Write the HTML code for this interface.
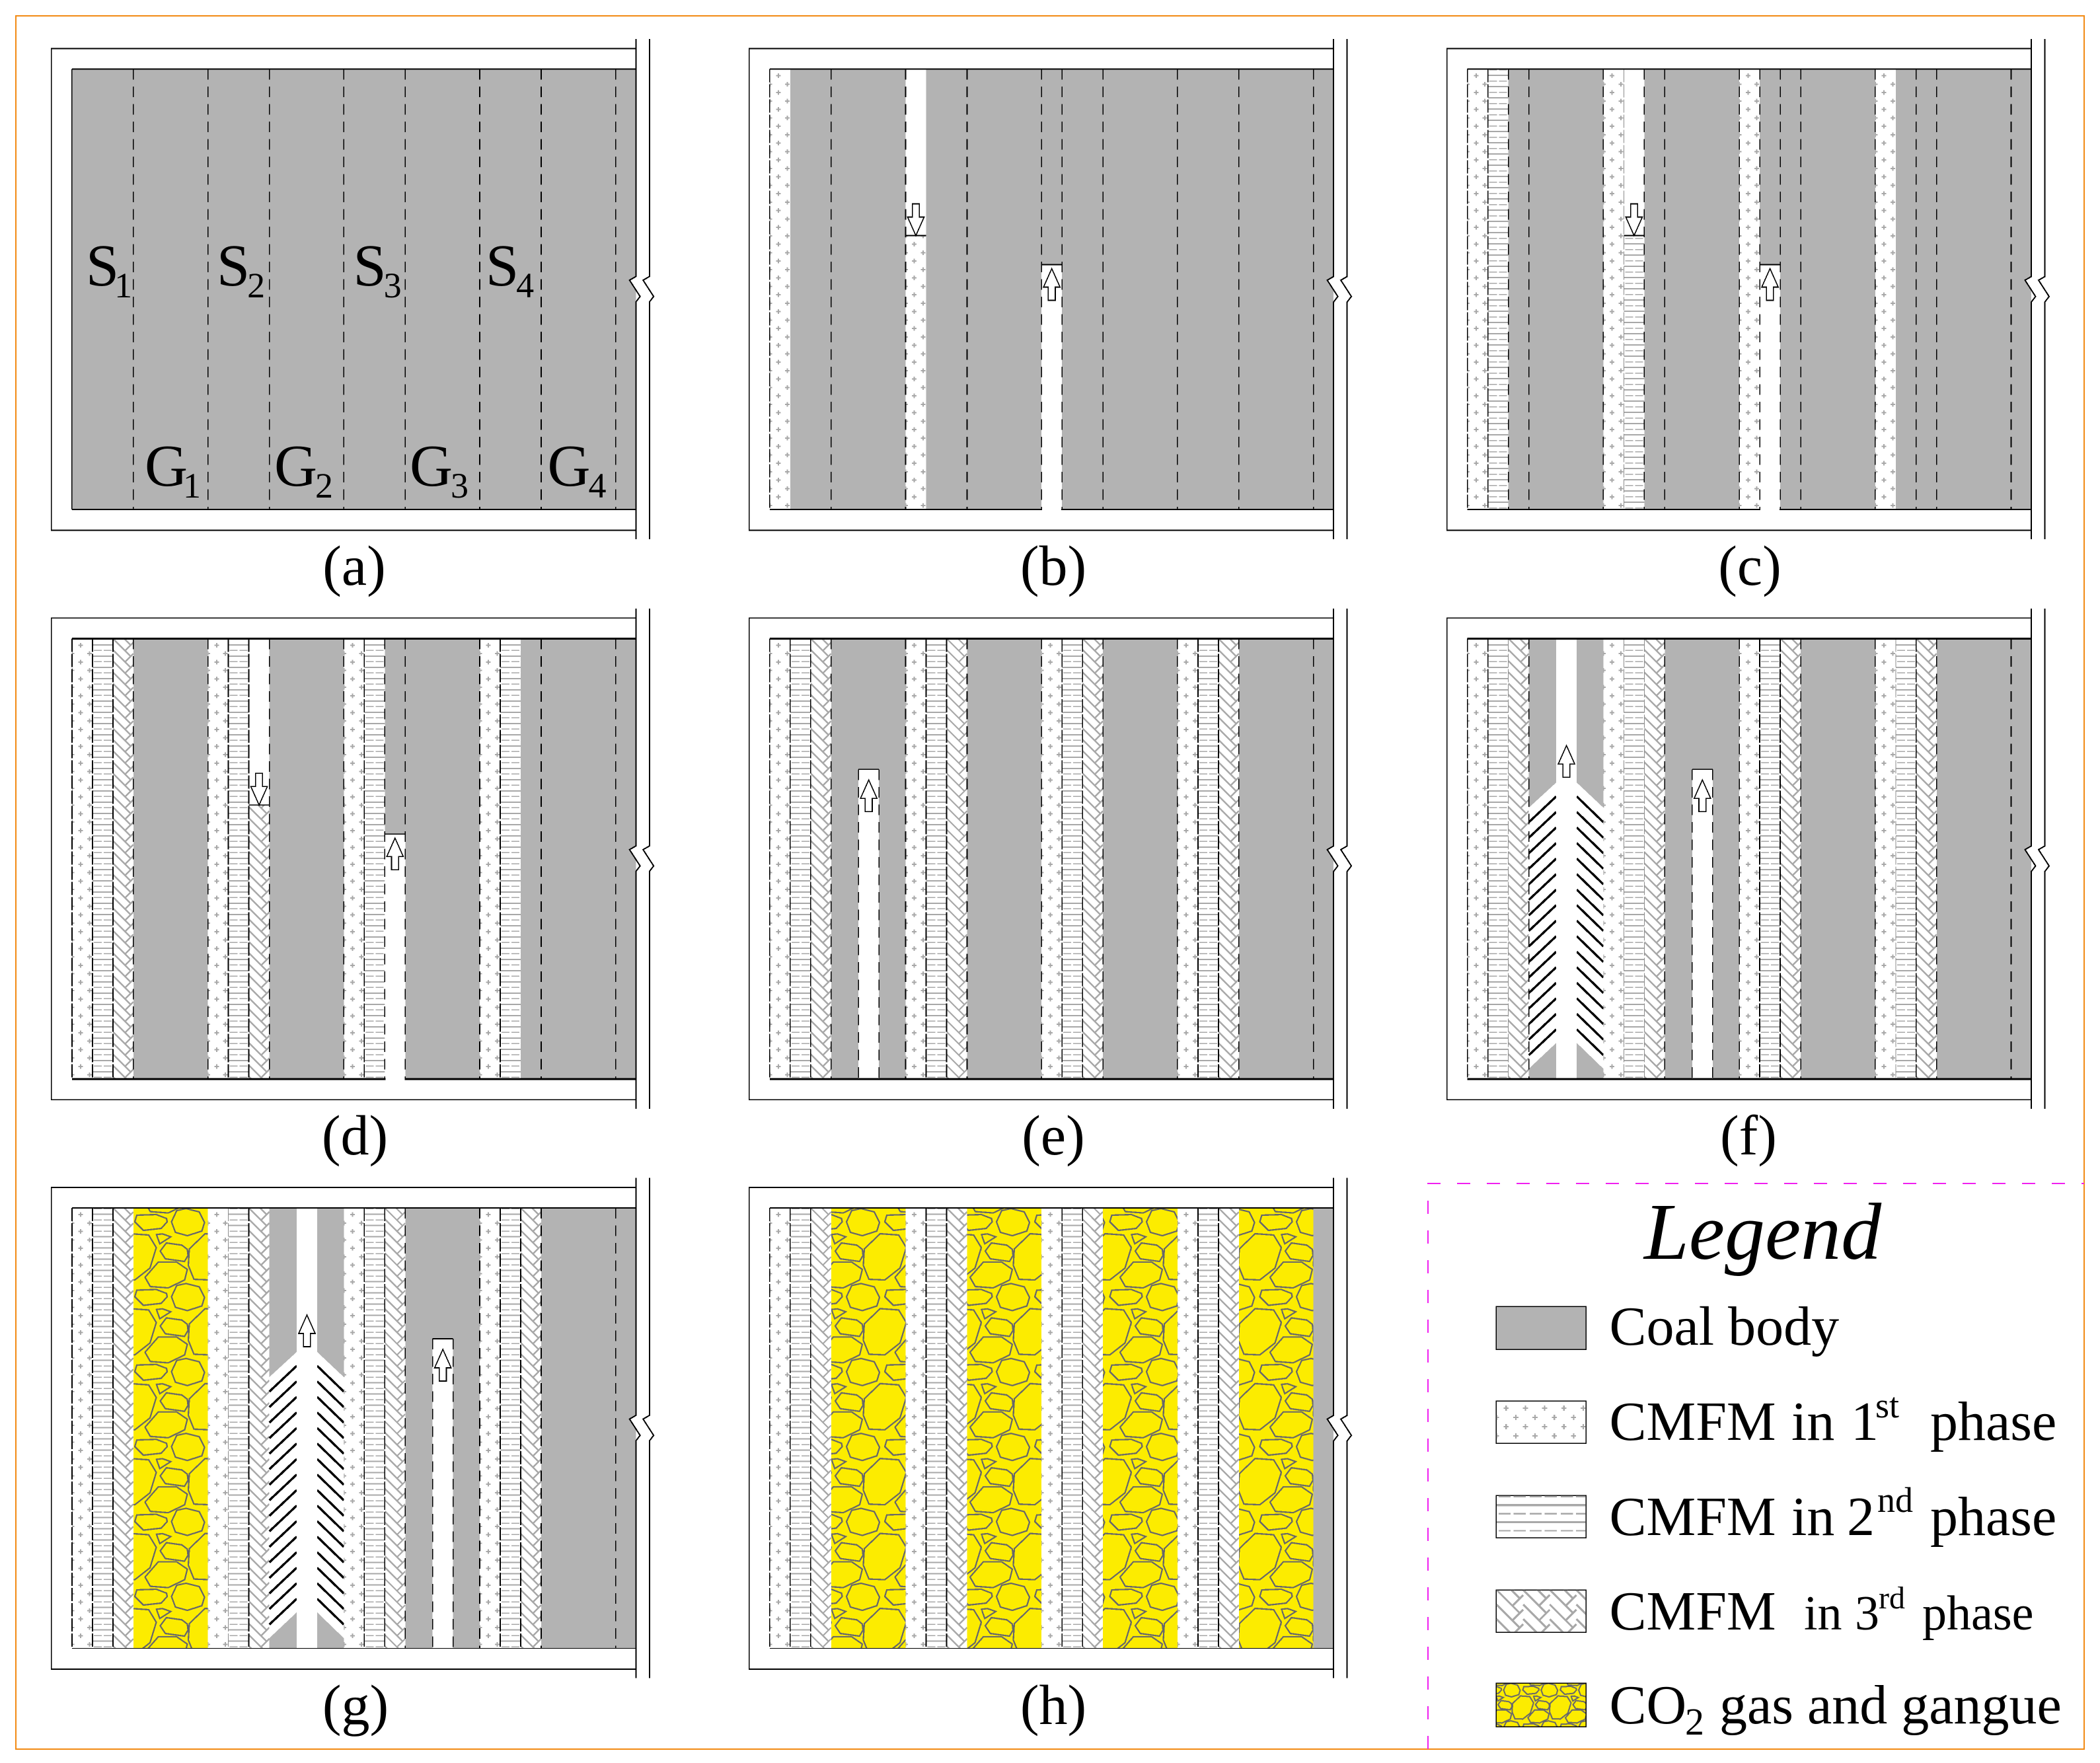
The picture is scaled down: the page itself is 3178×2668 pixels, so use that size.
<!DOCTYPE html>
<html lang="en">
<head>
<meta charset="utf-8">
<title>Coal mining stages diagram</title>
<style>
html,body{margin:0;padding:0;background:#fff;}
svg{display:block;}
text{font-family:"Liberation Serif",serif;fill:#000;}
</style>
</head>
<body>
<svg id="figure" xmlns="http://www.w3.org/2000/svg" width="3178" height="2668" viewBox="0 0 3178 2668" shape-rendering="crispEdges">
<defs id="defs"></defs>
<rect x="0" y="0" width="3178" height="2668" fill="#fff"/>
<g id="panels"></g>

<g font-size="90">
<text x="130" y="432">S<tspan dy="18" dx="-7" font-size="54">1</tspan></text>
<text x="328" y="432">S<tspan dy="18" dx="-4" font-size="54">2</tspan></text>
<text x="534.5" y="432">S<tspan dy="18" dx="-4" font-size="54">3</tspan></text>
<text x="735" y="432">S<tspan dy="18" dx="-4" font-size="54">4</tspan></text>
<text x="219" y="735">G<tspan dy="18" dx="-7" font-size="54">1</tspan></text>
<text x="415" y="735">G<tspan dy="18" dx="-3" font-size="54">2</tspan></text>
<text x="620" y="735">G<tspan dy="18" dx="-3" font-size="54">3</tspan></text>
<text x="828.5" y="735">G<tspan dy="18" dx="-3" font-size="54">4</tspan></text>
</g>

<g font-size="86" text-anchor="middle">
<text x="536" y="885">(a)</text>
<text x="1594" y="885">(b)</text>
<text x="2648" y="885">(c)</text>
<text x="537" y="1747">(d)</text>
<text x="1594" y="1747">(e)</text>
<text x="2646" y="1747">(f)</text>
<text x="538" y="2609">(g)</text>
<text x="1594" y="2609">(h)</text>
</g>

<rect x="24" y="24" width="3130" height="2623" fill="none" stroke="#f28a14" stroke-width="2"/>
<path d="M2161 2647V1791H3154" fill="none" stroke="#f020f0" stroke-width="2" stroke-dasharray="20 25"/>

<g font-size="84">
<text x="2488" y="1905" font-size="122" font-style="italic">Legend</text>

<g>
<rect x="2264" y="1977" width="136" height="65" fill="#b3b3b3" stroke="#000" stroke-width="1.5"/>
<text x="2435.5" y="2035">Coal body</text>
</g>

<g>
<g id="swatch-first" transform="translate(2264,2120)"><rect width="136" height="64" fill="#fff" stroke="#000" stroke-width="1.5"/></g>
<text y="2179"><tspan x="2435.5">CMFM</tspan><tspan x="2711">in</tspan><tspan x="2801">1</tspan><tspan x="2838" y="2145" font-size="54">st</tspan><tspan x="2921" y="2179">phase</tspan></text>
</g>

<g>
<g id="swatch-second" transform="translate(2264,2263)"><rect width="136" height="64" fill="#fff" stroke="#000" stroke-width="1.5"/></g>
<text y="2323"><tspan x="2435.5">CMFM</tspan><tspan x="2711">in</tspan><tspan x="2795">2</tspan><tspan x="2841" y="2288" font-size="54">nd</tspan><tspan x="2921" y="2323">phase</tspan></text>
</g>

<g>
<g id="swatch-third" transform="translate(2264,2406)"><rect width="136" height="64" fill="#fff" stroke="#000" stroke-width="1.5"/></g>
<text y="2466"><tspan x="2435.5">CMFM</tspan><tspan x="2730" font-size="74">in</tspan><tspan x="2807" font-size="74">3</tspan><tspan x="2843" y="2434" font-size="48">rd</tspan><tspan x="2909" y="2466" font-size="74">phase</tspan></text>
</g>

<g>
<g transform="translate(2264,2547)"><rect width="136" height="66" fill="url(#gangue-legend)" stroke="#000" stroke-width="1.5"/></g>
<text y="2608"><tspan x="2435.5">CO</tspan><tspan x="2550" y="2625" font-size="58">2</tspan><tspan x="2602" y="2608">gas and gangue</tspan></text>
</g>
</g>
</svg>

<script>
// Stage of the working sequence, one letter per slot (three narrow slots + one block, four times).
// C coal, P/M/H first/second/third phase filling, lower case = filling advancing from the top,
// r = roadway retreating from the bottom, S = short roadway in a block, F = full roadway with blasted wings, Y = gangue.
const stageIds = ['a', 'b', 'c', 'd', 'e', 'f', 'g', 'h'];
const stageSlots = [
  'CCCCCCCCCCCCCCCC',
  'PCCCpCCCrCCCCCCC',
  'PMCCPmCCPrCCPCCC',
  'PMHCPMhCPMrCPMCC',
  'PMHSPMHCPMHCPMHC',
  'PMHFPMHSPMHCPMHC',
  'PMHYPMHFPMHSPMHC',
  'PMHYPMHYPMHYPMHY'
];
const stageEdges = [
  [3, 4, 7, 8, 11, 12, 15, 16],
  [0, 3, 4, 7, 8, 9, 11, 12, 15, 16],
  [0, 1, 2, 3, 4, 6, 7, 8, 9, 10, 11, 12, 14, 15, 16],
  [0, 1, 2, 3, 4, 5, 6, 7, 8, 9, 10, 11, 12, 13, 15, 16],
  [0, 1, 2, 3, 4, 5, 6, 7, 8, 9, 10, 11, 12, 13, 14, 15, 16],
  [0, 1, 3, 7, 8, 9, 10, 11, 12, 14, 15, 16],
  [0, 1, 2, 6, 9, 10, 11, 12, 13, 14, 15, 16],
  [0, 1, 2, 5, 6, 9, 10, 13, 14]
];
const openBottomStages = ['b', 'c', 'd'];
const stoneOutlines = [
  '31,4 45,1 65,6 73,22 69,35 47,42 29,37 23,21',
  '74,39 102,41 113.5,60 104,91 81,109 57,108 48.5,87 50,62',
  '15.3,53 38.7,56.3 47,62.7 48,72 42.7,81 13.7,77 6,65.3',
  '0.3,40.3 9.3,39.3 22,43.7 5.3,54.3',
  '3,82 31,82 47,93 43,109 18,121 -9,119 -17,105',
  '84,11 113.5,10 129,16 130,21 121,31 94,34 81,21'
];

const NS = 'http://www.w3.org/2000/svg';
const originX = 108.9, originY = 104.5, stepX = 1055.9, stepY = 861.75;
const slotW = 31, blockW = 112.7, barW = 853.4, barH = 666.5;
const descendFront = 252, retreatFront = 296, shortTop = 198, fullArrowTip = 162;
const hatchGrey = '#a8a8a8';
const defs = document.getElementById('defs');
const panels = document.getElementById('panels');

function el(tag, attrs, parent) {
  const node = document.createElementNS(NS, tag);
  for (const k in attrs) node.setAttribute(k, attrs[k]);
  parent.appendChild(node);
  return node;
}

function gangueTile(strokeW) {
  let s = `<rect x="0" y="0" width="113.5" height="113.4" fill="#fcec00"/>`;
  for (const dx of [-113.5, 0, 113.5]) {
    for (const dy of [-113.4, 0, 113.4]) {
      for (const pts of stoneOutlines) {
        s += `<polygon points="${pts}" transform="translate(${dx},${dy})" fill="none" stroke="#66666c" stroke-width="${strokeW}"/>`;
      }
    }
  }
  return s;
}
function pattern(id, w, h, content, extra) {
  return `<pattern id="${id}" patternUnits="userSpaceOnUse" width="${w}" height="${h}" ${extra || ''}>${content}</pattern>`;
}
defs.innerHTML =
  pattern('gangue', 113.5, 113.4, gangueTile(2.2), 'x="1258" y="1828"') +
  pattern('gangue-legend', 113.5, 113.4, gangueTile(4), 'patternTransform="scale(0.5)"');

function plusPath(w, h) {
  const cellW = 26.5, cellH = 25.5, arm = 3.5;
  let d = '';
  for (let r = 0; r * cellH < h; r++) {
    for (let k = 0; k * cellW < w + cellW; k++) {
      const x1 = 13.2 + k * cellW, y1 = 10 + r * cellH;
      const x2 = k * cellW, y2 = 22.75 + r * cellH;
      d += `M${x1 - arm} ${y1}h${2 * arm}M${x1} ${y1 - arm}v${2 * arm}`;
      d += `M${x2 - arm} ${y2}h${2 * arm}M${x2} ${y2 - arm}v${2 * arm}`;
    }
  }
  return d;
}
function solidLinesPath(w, h) {
  let d = '';
  for (let y = 9.7; y < h; y += 17) d += `M0 ${y}H${w}`;
  return d;
}
function dashLinesPath(w, h) {
  let d = '';
  for (let y = 1.2; y < h; y += 17) {
    for (let k = 0; k * 31 < w; k++) {
      const x = k * 31;
      d += `M${x + 2} ${y}H${x + 14}M${x + 17} ${y}H${x + 29}`;
    }
  }
  return d;
}
function weavePath(w, h) {
  let d = '';
  for (let y = -34; y < h; y += 17) {
    for (let k = 0; k * 31 < w; k++) {
      const x = k * 31;
      d += `M${x} ${y}L${x + 27} ${y + 27}M${x + 31} ${y + 6}L${x + 18.5} ${y + 18.5}`;
    }
  }
  return d;
}

// Draws one filling texture as plain strokes inside a clipped viewport.
function drawTexture(parent, code, x, y0, w, h, scale) {
  const vw = w / scale, vh = h / scale, vy = y0 / scale;
  const box = el('svg', { x: x, y: y0, width: w, height: h, viewBox: `0 ${vy} ${vw} ${vh}`, overflow: 'hidden' }, parent);
  const full = vy + vh;
  if (code === 'P') {
    const p = el('path', { d: plusPath(vw, full), stroke: hatchGrey, 'stroke-width': 2, fill: 'none' }, box);
    
    
  } else if (code === 'M') {
    const solid = el('path', { d: solidLinesPath(vw, full), stroke: hatchGrey, 'stroke-width': 2, fill: 'none' }, box);
    
    
    const dash = el('path', { d: dashLinesPath(vw, full), stroke: hatchGrey, 'stroke-width': 1.5, fill: 'none' }, box);
    
    
  } else if (code === 'H') {
    const p = el('path', { d: weavePath(vw, full), stroke: hatchGrey, 'stroke-width': 2.4, fill: 'none' }, box);
    
    
  }
}

function edgeX(index) {
  const cycles = Math.floor(index / 4), rest = index % 4;
  return cycles * (3 * slotW + blockW) + rest * slotW;
}

function drawArrow(parent, cx, tip, dir) {
  const head = 28, total = 48, hw = 12.5, sw = 5.3;
  const a = el('polygon', {
    points: [
      [cx, tip], [cx + hw, tip + dir * head], [cx + sw, tip + dir * head],
      [cx + sw, tip + dir * total], [cx - sw, tip + dir * total],
      [cx - sw, tip + dir * head], [cx - hw, tip + dir * head]
    ].map(p => p.join(',')).join(' '),
    fill: '#fff', stroke: '#000', 'stroke-width': 1.6
  }, parent);
  
  
}

function drawWings(parent, x0, id) {
  const rows = 16, firstY = 239, stepLine = 23.5, drop = 39;
  const leftX = x0, innerL = x0 + 41.4, innerR = x0 + 72.4, rightX = x0 + blockW;
  const wings = el('path', {
    d: `M${leftX} 256L${innerL} 218V612L${leftX} 651ZM${rightX} 256L${innerR} 218V612L${rightX} 651Z`,
    fill: '#fff'
  }, parent);
  
  
  let d = '';
  for (let i = 0; i < rows; i++) {
    const y = firstY + i * stepLine;
    d += `M${leftX} ${y + drop}L${innerL} ${y}M${rightX} ${y + drop}L${innerR} ${y}`;
  }
  const hatch = el('path', { d: d, stroke: '#000', 'stroke-width': 3.4, fill: 'none' }, parent);
  
  
}

function drawPanel(id, i) {
  const col = i % 3, row = Math.floor(i / 3);
  const ox = originX + col * stepX, oy = originY + row * stepY;
  const slots = stageSlots[i];
  const open = openBottomStages.includes(id);

  const g = el('g', { transform: `translate(${ox},${oy})` }, panels);
  
  

  const coal = el('rect', { x: 0, y: 0, width: barW, height: barH, fill: '#b3b3b3' }, g);
  
  

  const tops = [];
  const arrows = [];
  for (let s = 0; s < slots.length; s++) {
    const code = slots[s];
    const x = edgeX(s);
    const w = (s % 4 === 3) ? blockW : slotW;
    if (code === 'C') continue;

    if (code === 'P' || code === 'M' || code === 'H') {
      const band = el('rect', { x: x, y: 0, width: w, height: barH, fill: '#fff' }, g);
      
      
      drawTexture(g, code, x, 0, w, barH, 1);
    } else if (code === 'p' || code === 'm' || code === 'h') {
      const band = el('rect', { x: x, y: 0, width: w, height: barH, fill: '#fff' }, g);
      
      
      drawTexture(g, code.toUpperCase(), x, descendFront, w, barH - descendFront, 1);
      tops.push([x, x + w, descendFront]);
      arrows.push([x + w / 2, descendFront, -1]);
    } else if (code === 'r') {
      const band = el('rect', { x: x, y: retreatFront, width: w, height: barH - retreatFront + 6, fill: '#fff' }, g);
      
      
      tops.push([x, x + w, retreatFront]);
      arrows.push([x + w / 2, retreatFront + 6, 1]);
    } else if (code === 'S') {
      const band = el('rect', { x: x + 41.4, y: shortTop, width: 31, height: barH - shortTop, fill: '#fff' }, g);
      
      
      const sides = el('path', {
        d: `M${x + 41.4} ${shortTop}V${barH}M${x + 72.4} ${shortTop}V${barH}`,
        stroke: '#000', 'stroke-width': 1.6, 'stroke-dasharray': '16 10.5', fill: 'none'
      }, g);
      
      
      tops.push([x + 41.4, x + 72.4, shortTop]);
      arrows.push([x + 56.9, shortTop + 16, 1]);
    } else if (code === 'F') {
      drawWings(g, x, id);
      const band = el('rect', { x: x + 41.4, y: 0, width: 31, height: barH, fill: '#fff' }, g);
      
      
      arrows.push([x + 56.9, fullArrowTip, 1]);
    } else if (code === 'Y') {
      const abs = el('g', { transform: `translate(${-ox},${-oy})` }, g);
      const band = el('rect', { x: ox + x, y: oy, width: w, height: barH, fill: 'url(#gangue)' }, abs);
      
      
    }
  }

  for (let edge = 1; edge < slots.length; edge++) {
    if (stageEdges[i].includes(edge)) continue;
    const left = slots[edge - 1], right = slots[edge];
    if (/[PMH]/.test(left) && /[PMHpmh]/.test(right) && left !== right.toUpperCase()) {
      const x = edgeX(edge);
      const faint = el('line', { x1: x, x2: x, y1: 0, y2: barH, stroke: '#8c8c8c', 'stroke-width': 1, 'stroke-dasharray': '20 3' }, g);
      
      
    }
  }

  for (const edge of stageEdges[i]) {
    const x = edgeX(edge);
    const left = edge > 0 ? slots[edge - 1] : 'P';
    const right = edge < slots.length ? slots[edge] : 'C';
    const dense = /[PMHpmh]/.test(left) && /[PMHpmh]/.test(right);
    const line = el('line', {
      x1: x, x2: x, y1: 0, y2: barH,
      stroke: '#000', 'stroke-width': dense ? 1.8 : 1.6,
      'stroke-dasharray': dense ? '20 3' : '16 10.5'
    }, g);
    
    
  }
  if (id === 'a') {
    const left = el('line', { x1: 0, x2: 0, y1: 0, y2: barH, stroke: '#000', 'stroke-width': 1.6 }, g);
    
    
  }

  const edgeWidth = row === 1 ? 3 : 2;
  const topLine = el('line', { x1: 0, x2: barW, y1: 0, y2: 0, stroke: '#000', 'stroke-width': edgeWidth }, g);
  
  
  const botLine = el('line', { x1: 0, x2: barW, y1: barH, y2: barH, stroke: '#000', 'stroke-width': row === 2 ? 1.2 : edgeWidth }, g);
  
  

  if (open) {
    const s = slots.indexOf('r');
    const gap = el('rect', { x: edgeX(s) + 1, y: barH - 3, width: slotW - 2, height: 8, fill: '#fff' }, g);
    
    
  }

  for (const t of tops) {
    const cap = el('line', { x1: t[0], x2: t[1], y1: t[2], y2: t[2], stroke: '#000', 'stroke-width': 1.6 }, g);
    
    
  }
  for (const a of arrows) drawArrow(g, a[0], a[1], a[2]);

  const l = -31, t = -31, b = barH + 31.5, r = barW, r2 = barW + 20.5;
  const frame = el('path', { d: `M${r} ${t}H${l}V${b}H${r}`, fill: 'none', stroke: '#000', 'stroke-width': 1.6 }, g);
  
  

  const brkTop = 314, a1 = 319.5, a2 = 344.2, brkBot = 352.5;
  const gapFill = el('polygon', {
    points: `${r},${brkTop} ${r - 9.6},${a1} ${r + 6.4},${a2} ${r},${brkBot} ${r2},${brkBot} ${r2 + 6.4},${a2} ${r2 - 9.6},${a1} ${r2},${brkTop}`,
    fill: '#fff'
  }, g);
  
  
  const breakPath = (x) => `M${x} -45.5V${brkTop}L${x - 9.6} ${a1}L${x + 6.4} ${a2}L${x} ${brkBot}V711.5`;
  const line1 = el('path', { d: breakPath(r), fill: 'none', stroke: '#000', 'stroke-width': 2 }, g);
  
  
  const line2 = el('path', { d: breakPath(r2), fill: 'none', stroke: '#000', 'stroke-width': 2 }, g);
  
  
}

stageIds.forEach(drawPanel);

drawTexture(document.getElementById('swatch-first'), 'P', 0.75, 0.75, 134.5, 62.5, 1.1);
drawTexture(document.getElementById('swatch-second'), 'M', 0.75, 0.75, 134.5, 62.5, 1.52);
drawTexture(document.getElementById('swatch-third'), 'H', 0.75, 0.75, 134.5, 62.5, 1.3);
</script>
</body>
</html>
